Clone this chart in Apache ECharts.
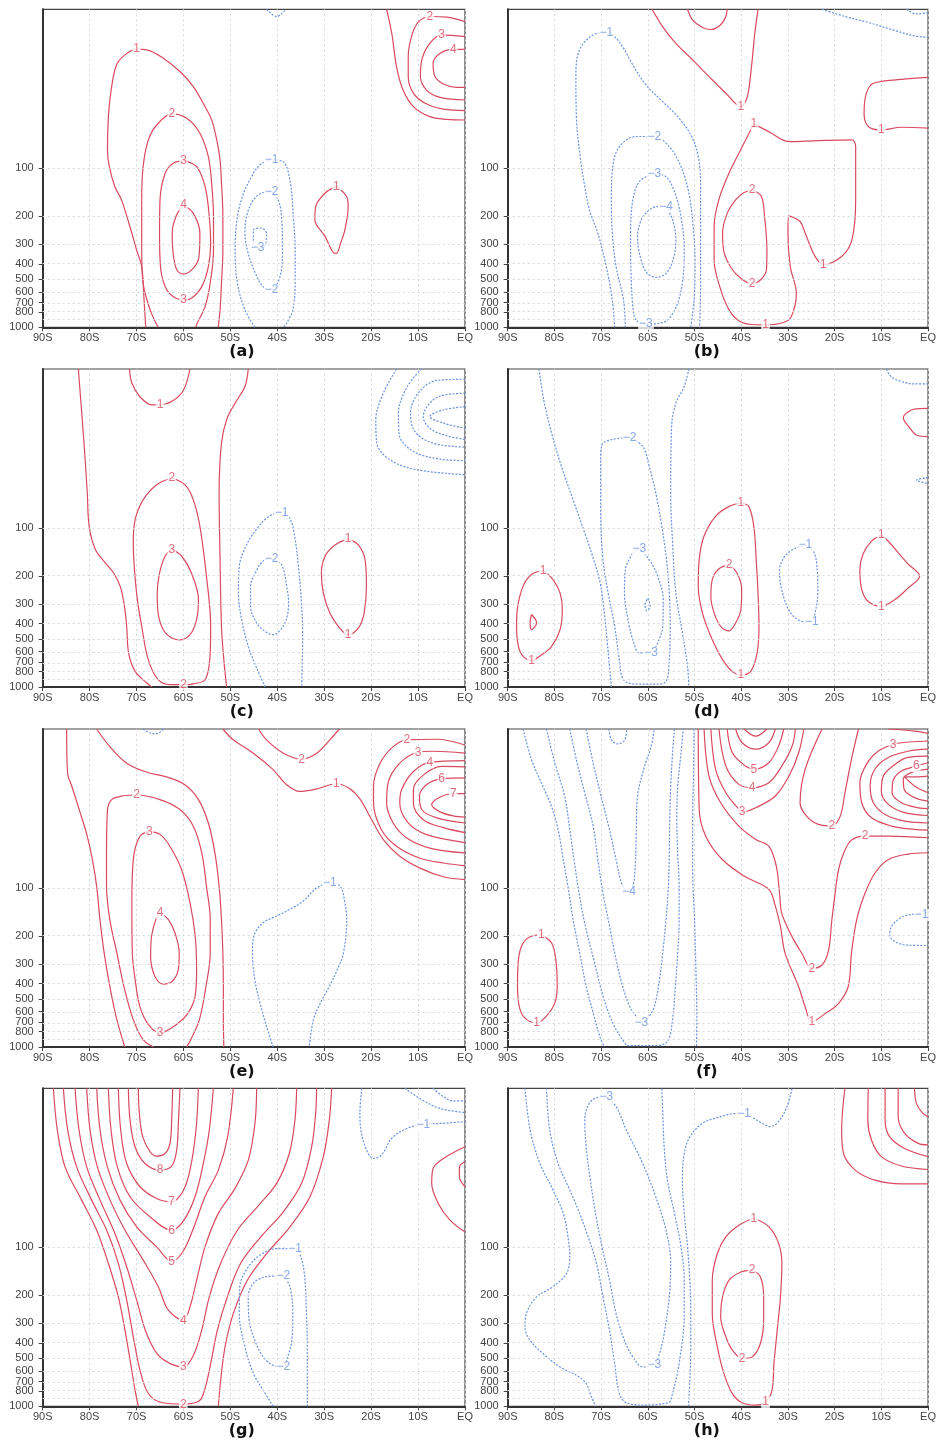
<!DOCTYPE html>
<html>
<head>
<meta charset="utf-8">
<title>Zonal-mean anomaly cross sections</title>
<script src="https://cdn.jsdelivr.net/npm/echarts@6/dist/echarts.min.js"></script>
<style>
  html, body { margin: 0; padding: 0; background: #fff; }
  #chart { width: 939px; height: 1443px; }
</style>
</head>
<body>
<div id="chart"></div>
<script>
// Axis ticks and panel tags
const LAT_TICKS = ['90S', '80S', '70S', '60S', '50S', '40S', '30S', '20S', '10S', 'EQ'];
const P_TICKS = [100, 200, 300, 400, 500, 600, 700, 800, 900, 1000];
const PANEL_TAGS = ['(a)', '(b)', '(c)', '(d)', '(e)', '(f)', '(g)', '(h)'];

// Contour lines per panel: v = contour value, pts = [latitude, pressure hPa],
// close = closed ring, lab = [latitude, pressure] where the value is written.
const panelA = [
  { v: 1, pts: [[-68.05,1000],[-68.4,673],[-68.9,415],[-70,326],[-71,256],[-73.2,158],[-74.6,131],[-75.8,97.6],[-76.2,76.7],[-76,47.3],[-75.5,33.7],[-74.4,22.9],[-72.8,19.7],[-70,17.8],[-67.8,18],[-64.3,20.3],[-60.7,24.7],[-57.9,30.6],[-55.8,39],[-54,49.6],[-52.9,66.5],[-52.2,88.6],[-51.9,124],[-51.6,201],[-51.6,326],[-51.9,528],[-52.2,777],[-52.6,1000]], lab: [[-70,17.8]] },
  { v: 2, pts: [[-65.4,1000],[-67.1,777],[-68.6,528],[-68.9,326],[-68.9,158],[-68.6,97.6],[-67.5,66.5],[-65.7,53.4],[-62.5,45.5],[-59.3,48.5],[-56.5,60.2],[-54.7,84.5],[-54,124],[-53.6,201],[-53.6,326],[-54.3,528],[-55.4,741],[-57.2,960],[-57.3,1000]], lab: [[-62.5,45.5]] },
  { v: 3, close: true, pts: [[-60,89.5],[-57.2,97.6],[-55.4,130],[-54.5,201],[-54.2,296],[-54.7,415],[-56.1,555],[-58.3,657],[-60,673],[-62.2,641],[-63.9,555],[-64.9,415],[-65.1,256],[-65,158],[-63.9,107.5],[-62.2,93]], lab: [[-60,89.5],[-60,673]] },
  { v: 4, close: true, pts: [[-60,170],[-57.9,192],[-56.5,256],[-56.7,359],[-57.9,425],[-59.9,462],[-61.4,436],[-62.2,343],[-62.4,256],[-61.6,201]], lab: [[-60,170]] },
  { v: -1, pts: [[-44.8,1000],[-46.9,777],[-48.5,528],[-49,326],[-48.5,201],[-47.2,143.7],[-45.5,113],[-43.7,95.1],[-41.2,88.6],[-38.7,91],[-37.2,124],[-36.6,201],[-36.2,326],[-36.2,528],[-36.7,777],[-38,940],[-38.7,1000]], lab: [[-41.2,88.6]] },
  { v: -2, close: true, pts: [[-41.2,140],[-39.8,158],[-39.1,201],[-38.9,326],[-39.4,477],[-41.2,582],[-43,555],[-44.4,477],[-46.2,343],[-46.9,256],[-46.4,192],[-44.8,154],[-43,142]], lab: [[-41.2,140],[-41.2,582]] },
  { v: -3, close: true, pts: [[-45.1,300],[-45.1,245],[-43.5,238],[-42.3,256],[-42.5,300],[-43.8,318]], lab: [[-44.2,318]] },
  { v: 1, close: true, pts: [[-27.4,130],[-25.2,151],[-24.9,174],[-25.6,244],[-26.5,295],[-27.4,343],[-28.2,335],[-29.8,269],[-32,211],[-31.8,174],[-29.8,143]], lab: [[-27.4,130]] },
  { v: 1, pts: [[-16.7,10],[-15.6,14.2],[-14.6,22.9],[-13.2,32.2],[-11,40.9],[-7.5,47.3],[-3.9,49.2],[0,49.7]] },
  { v: 2, pts: [[0,11.96],[-3.9,11.2],[-7.5,11.1],[-10,12.1],[-11.4,14.86],[-12.1,19.85],[-12.1,26.5],[-11,33.7],[-8.5,39],[-4.6,42.5],[0,43.4]], lab: [[-7.5,11.1]] },
  { v: 3, pts: [[0,14.86],[-5,14.5],[-7.5,16.4],[-9.2,20.8],[-9.5,26.5],[-8.2,32.2],[-5.3,35.8],[0,37.2]], lab: [[-5,14.5]] },
  { v: 4, pts: [[0,17.85],[-2.5,17.85],[-5.3,18.9],[-6.8,21.9],[-6.4,26.5],[-4.6,29.5],[-1.8,31],[0,31]], lab: [[-2.5,17.85]] },
  { v: -1, pts: [[-42.3,10],[-40.1,11.1],[-38.2,10]] }
];

const panelB = [
  { v: -1, pts: [[-67.1,1000],[-67.6,673],[-68.9,415],[-70.7,256],[-72.5,183],[-73.5,130],[-74.4,88.6],[-75.3,47.3],[-75.4,25.3],[-74.9,18.9],[-73.5,16],[-71,14.2],[-68.9,14],[-67.5,14.5],[-65.4,17.2],[-63.2,22.4],[-60.4,29.9],[-56.8,38.1],[-53.3,48.5],[-50.6,63.2],[-49.2,84.5],[-48.7,124],[-48.7,256],[-48.7,528],[-48.9,1000]], lab: [[-68.9,14]] },
  { v: -2, pts: [[-64.8,1000],[-65.2,673],[-66.8,415],[-67.6,256],[-67.8,158],[-67.5,97.6],[-66.1,73.1],[-62.5,63.1],[-58.6,63.1],[-55.4,73.1],[-52.9,97.6],[-51.2,143.6],[-50.3,232],[-49.9,377],[-50,610],[-50.4,816],[-50.8,1000]], lab: [[-58.6,63.1]] },
  { v: -3, close: true, pts: [[-58.6,107.5],[-56.1,113],[-54.3,140],[-52.9,201],[-52.2,326],[-52.6,528],[-53.9,740],[-55.8,900],[-58,950],[-60.4,955],[-62.5,900],[-63.2,740],[-63.6,458],[-63.7,256],[-63.2,158],[-61.8,121]], lab: [[-58.6,107.5],[-60.4,955]] },
  { v: -4, close: true, pts: [[-56.1,174],[-54.7,211],[-54,282],[-54.6,377],[-56.1,458],[-58.3,485],[-60.4,447],[-61.8,343],[-62.2,269],[-61.4,211],[-59.7,183],[-57.9,174]], lab: [[-56.1,174]] },
  { v: 1, pts: [[-59.1,10],[-56.8,12.9],[-54,16.4],[-50.4,20.8],[-46.9,26.5],[-43.3,33.7],[-40.1,40.9],[-38.7,35.4],[-37.8,22.9],[-37.1,14.2],[-36.4,10]], lab: [[-40.1,40.9]] },
  { v: 1, close: true, pts: [[-37.3,52.6],[-34.1,58.8],[-29.8,68],[-23.5,67],[-16.3,66.3],[-15.5,73],[-15.5,158],[-16.3,282],[-18.5,359],[-22.4,402],[-24.2,358],[-26.3,256],[-27.4,216],[-29.8,199],[-30,256],[-29.5,415],[-28.2,610],[-29.3,857],[-31.3,940],[-34.8,965],[-37.7,960],[-40.5,908],[-42.6,777],[-44.6,555],[-45.8,377],[-45.8,232],[-44.8,158],[-42.6,107],[-40.5,80.5],[-38.7,63.4]], lab: [[-37.3,52.6],[-22.4,402],[-34.8,965]] },
  { v: 2, pts: [[-51.5,10],[-50.4,11.7],[-48.3,13],[-46.5,13.4],[-44.4,12.5],[-43.3,11.1],[-43,10]] },
  { v: 1, pts: [[0,26.8],[-5.7,27.6],[-11.7,29.2],[-13.2,33.7],[-13.7,45.1],[-12.8,54.6],[-10,57.4],[-5.7,55.2],[0,55.9]], lab: [[-10,57.4]] },
  { v: 2, close: true, pts: [[-37.7,137],[-35.7,150],[-35,201],[-34.5,326],[-34.6,436],[-35.9,504],[-37.7,534],[-40.1,492],[-42.1,425],[-43.7,335],[-44,256],[-43,192],[-41.2,158],[-39.4,142]], lab: [[-37.7,137],[-37.7,534]] },
  { v: -1, pts: [[-22.7,10],[-17.8,11.1],[-12.8,12.1],[-7.1,13.6],[-2.9,14.7],[0,15]] },
  { v: -2, pts: [[-4.6,10],[-2.5,10.7],[0,10.5]] }
];

const panelC = [
  { v: 1, pts: [[-82.4,10],[-81.9,15.6],[-81.2,29.2],[-80.5,60.2],[-80.1,97.6],[-78.8,136],[-76.7,165],[-74.9,192],[-73.5,232],[-72.7,295],[-72.1,415],[-71.7,610],[-70.3,797],[-67.8,944],[-66.8,1000]] },
  { v: 1, pts: [[-46.2,10],[-46.9,12.9],[-49,16.4],[-50.8,20.8],[-51.9,29.2],[-52.4,60.2],[-52.2,158],[-51.9,415],[-51.4,673],[-50.8,1000]] },
  { v: 1, pts: [[-71.5,10],[-71,12.25],[-69.3,14.9],[-66.8,16.8],[-65,16.8],[-62.2,15.8],[-60,13.6],[-58.6,10]], lab: [[-65,16.8]] },
  { v: 2, close: true, pts: [[-62.5,48.5],[-59.7,53.4],[-57.9,66.5],[-56.5,97.6],[-55.1,201],[-54.2,415],[-54.4,673],[-55.4,900],[-57.9,955],[-60,967],[-62.9,967],[-65.4,900],[-67.5,673],[-68.9,415],[-70,256],[-70.7,124],[-70.3,88.6],[-68.6,66.5],[-65.7,53.4]], lab: [[-62.5,48.5],[-60,967]] },
  { v: 3, close: true, pts: [[-62.5,136],[-60.4,150],[-58.3,192],[-56.8,282],[-57.2,377],[-58.6,469],[-60.7,505],[-62.5,492],[-64.3,437],[-65.4,343],[-65.6,256],[-65.1,192],[-63.9,150]], lab: [[-62.5,136]] },
  { v: -1, pts: [[-42.6,1000],[-44.4,760],[-46.2,555],[-47.6,377],[-48.3,256],[-48.1,174],[-46.7,130],[-44.5,102.4],[-41.9,85],[-39.1,79.7],[-37.2,88.6],[-36.2,118],[-35.5,174],[-34.9,282],[-34.6,456],[-34.7,740],[-34.8,1000]], lab: [[-39.1,79.7]] },
  { v: -2, close: true, pts: [[-41.2,157],[-39.1,170],[-38,232],[-37.6,295],[-38.4,396],[-40.9,469],[-42.6,447],[-44.4,396],[-45.7,311],[-45.7,232],[-44.5,187],[-43,161]], lab: [[-41.2,157]] },
  { v: 1, close: true, pts: [[-24.9,116.7],[-22.7,128],[-21.3,158],[-21,232],[-21.5,343],[-22.7,425],[-24.9,469],[-27,415],[-28.8,343],[-30.2,256],[-30.6,192],[-29.8,150],[-27.7,128]], lab: [[-24.9,116.7],[-24.9,469]] },
  { v: -1, pts: [[-14.6,10],[-17.4,14.2],[-19,20.8],[-18.8,29.2],[-16,37.2],[-10.3,43],[0,46.2]] },
  { v: -2, pts: [[-9.25,10],[-12.3,12.9],[-14.2,19],[-14,26],[-11,33],[-5.3,36.9],[0,37.7]] },
  { v: -3, pts: [[0,11.6],[-6.05,11.8],[-10,14.2],[-11.6,19],[-10.7,24.7],[-6.8,29.3],[0,31]] },
  { v: -4, pts: [[0,14.2],[-5.3,14.8],[-7.8,16.8],[-8.9,19.9],[-7.5,23.6],[-3.9,26.3],[0,27.7]] },
  { v: -5, pts: [[0,17.25],[-4.6,18.1],[-7.5,19.9],[-4.6,21.9],[0,23.6]] }
];

const panelD = [
  { v: -1, pts: [[-83.3,10],[-82.3,15.6],[-80.6,25.3],[-78.5,40.9],[-76,66.5],[-73.5,107.5],[-71.6,158],[-70.2,222],[-69.3,343],[-68.6,555],[-67.8,1000]] },
  { v: -1, pts: [[-51.2,10],[-52.2,12.9],[-54,16.4],[-54.9,22.9],[-55.1,60.2],[-54.7,124],[-54,256],[-52.6,456],[-51.5,740],[-51.2,1000]] },
  { v: -2, close: true, pts: [[-63.9,26.9],[-61.1,30.6],[-59.7,40.9],[-58.3,60.2],[-57,97.6],[-56,158],[-55.4,256],[-55.2,415],[-55.4,673],[-56.1,921],[-58.3,960],[-62.5,960],[-65.2,900],[-66.1,673],[-67.1,415],[-68.5,256],[-69.6,158],[-70.1,76.7],[-70.1,37.2],[-69.8,29.9],[-67.8,27.8]], lab: [[-63.9,26.9]] },
  { v: -3, close: true, pts: [[-61.8,135],[-59.7,158],[-57.9,201],[-56.7,282],[-56.8,415],[-57.9,528],[-59.3,610],[-61.8,610],[-63,528],[-64.1,396],[-65,256],[-64.8,183],[-63.6,150],[-62.7,140]], lab: [[-61.8,135],[-59.3,610]] },
  { v: -4, close: true, pts: [[-60,276],[-59.5,309],[-60.2,332],[-60.6,305]] },
  { v: 1, close: true, pts: [[-82.4,185],[-80.3,211],[-78.8,256],[-78.3,326],[-78.8,437],[-80.6,555],[-82.8,629],[-84.9,680],[-86.7,642],[-87.7,555],[-88.1,415],[-87.9,318],[-86.7,232],[-84.9,196]], lab: [[-82.4,185],[-84.9,680]] },
  { v: 2, close: true, pts: [[-84.9,350],[-83.8,395],[-84.9,436],[-85.2,390]] },
  { v: 1, close: true, pts: [[-40.1,69.6],[-38.4,73.1],[-37.3,97.6],[-36.8,158],[-36.4,256],[-36.2,415],[-36.6,610],[-38,800],[-40.1,840],[-41.9,800],[-44,673],[-46.2,505],[-48.3,343],[-49.2,232],[-49,158],[-48,113],[-45.5,84.5],[-42.6,73.1]], lab: [[-40.1,69.6],[-40.1,840]] },
  { v: 2, close: true, pts: [[-42.6,170],[-40.9,192],[-39.9,244],[-40.1,328],[-41.2,396],[-42.6,443],[-44.4,415],[-45.8,343],[-46.5,270],[-46.2,211],[-44.8,181]], lab: [[-42.6,170]] },
  { v: -1, close: true, pts: [[-26.3,128],[-24.5,141],[-23.8,174],[-23.6,256],[-24.2,343],[-24.9,388],[-26.6,388],[-28.8,359],[-30.2,311],[-31.5,232],[-31.8,183],[-30.6,150],[-28.4,134]], lab: [[-26.3,128],[-24.9,388]] },
  { v: 1, close: true, pts: [[-10,110.6],[-12.1,121],[-13.9,145],[-14.6,183],[-14.2,244],[-12.8,290],[-10,311],[-7.1,282],[-4.3,239],[-1.8,201],[-4.3,168],[-6.4,143],[-8.4,122]], lab: [[-10,110.6],[-10,311]] },
  { v: 1, pts: [[0,17.7],[-2.9,17.9],[-5.3,20.3],[-4.3,22.7],[-2.2,26.3],[0,26.6]] },
  { v: -1, pts: [[-8.9,10],[-8,11.1],[-5.7,12],[-2.9,12.4],[0,12.4]] },
  { v: -1, pts: [[0,48.2],[-2.5,50],[0,52.6]] }
];

const panelE = [
  { v: 1, pts: [[-84.9,10],[-84.7,18.9],[-83.8,22.9],[-82,33.7],[-80.5,47.3],[-79.4,66.5],[-78.5,97.6],[-77.8,158],[-76.9,256],[-75.7,415],[-74.2,673],[-72.5,1000]] },
  { v: 1, pts: [[-78.5,10],[-75.7,12.9],[-72.1,16.4],[-67.8,18.7],[-63.6,20],[-59.7,22.4],[-56.8,27.8],[-54.7,39],[-53.3,60.2],[-52.4,97.6],[-51.9,158],[-51.6,256],[-51.5,415],[-51.5,673],[-51.4,1000]] },
  { v: 2, pts: [[-66.4,1000],[-68.6,900],[-70.7,673],[-72.7,415],[-74.2,256],[-75.7,158],[-76.4,97.6],[-76.4,60.2],[-76.2,32.5],[-75.3,27.8],[-72.8,26.3],[-70,26],[-65,27.8],[-60.7,32.2],[-57.9,40.9],[-56.1,60.2],[-55.1,97.6],[-54.3,158],[-54.3,256],[-55.2,415],[-56.6,673],[-58.3,880],[-59.3,1000]], lab: [[-70,26]] },
  { v: 3, close: true, pts: [[-67.3,44],[-65,46],[-62.9,54.6],[-60.4,76.7],[-58.6,124],[-57.5,201],[-57.2,326],[-57.5,477],[-59,610],[-61.4,720],[-65,815],[-67.5,720],[-69.3,555],[-70.3,377],[-70.9,256],[-71,124],[-70.7,66.5],[-69.3,47.3]], lab: [[-67.3,44],[-65,815]] },
  { v: 4, close: true, pts: [[-65,143],[-63.2,158],[-61.8,192],[-60.9,256],[-61.1,326],[-62.5,389],[-64.3,402],[-66.1,359],[-67,269],[-66.8,201],[-65.9,158]], lab: [[-65,143]] },
  { v: 2, pts: [[-44,10],[-42.3,11.7],[-38.7,14.2],[-34.8,15.5],[-31.6,14.2],[-28.8,11.7],[-26.8,10]], lab: [[-34.8,15.5]] },
  { v: 1, pts: [[-51.6,10],[-49.4,11.7],[-45.1,14.2],[-40.9,18],[-38,22.4],[-35.2,24.7],[-31.6,23.8],[-27.4,22.1],[-24.5,23.8],[-22.4,27.5],[-20.3,35.4],[-17.4,49.6],[-13.9,63.2],[-9.6,75],[-4.6,85],[0,88.6]], lab: [[-27.4,22.1]] },
  { v: 2, pts: [[0,12.6],[-6,11.6],[-12.4,11.7],[-15.3,12.9],[-18.1,16.4],[-19.5,22.9],[-19.5,29.2],[-17.8,43],[-14.6,54.6],[-9.6,65],[-4.6,69.6],[0,72.5]], lab: [[-12.4,11.7]] },
  { v: 3, pts: [[0,14.2],[-6.8,13.8],[-10,14],[-13.9,16.4],[-16.4,21.9],[-16.7,29.2],[-15.3,39],[-12.4,48.5],[-7.5,56.1],[0,60.2]], lab: [[-10,14]] },
  { v: 4, pts: [[0,15.8],[-7.5,16.2],[-11,18.5],[-13.5,24],[-13.9,29.2],[-12.1,39],[-8.2,46.2],[0,51.8]], lab: [[-7.5,16.2]] },
  { v: 5, pts: [[0,17.3],[-5,17.2],[-8.9,19.5],[-11,24],[-11,29.2],[-8.9,37.2],[-4.6,41.7],[0,44.8]] },
  { v: 6, pts: [[0,20.3],[-5,20.6],[-8.2,22.4],[-9.7,26.5],[-9.2,32.2],[-6,36.2],[0,39]], lab: [[-5,20.6]] },
  { v: 7, pts: [[0,25.5],[-2.5,25.5],[-5.3,26.8],[-7.1,30],[-5.3,33.2],[-2.5,35.2],[0,35.8]], lab: [[-2.5,25.5]] },
  { v: -1, pts: [[-40.9,1000],[-42.3,740],[-43.7,528],[-44.8,377],[-45.3,256],[-45,201],[-43,165],[-40.1,150],[-37.3,136],[-34.5,121],[-32,102],[-30.2,95],[-28.8,93],[-26.6,97.6],[-25.6,124],[-25.2,158],[-25.9,256],[-27.2,326],[-28.9,415],[-30.8,528],[-32.3,673],[-33.2,1000]], lab: [[-28.8,93]] },
  { v: -1, pts: [[-68.6,10],[-67.1,10.6],[-65.7,10.7],[-64.3,10]] }
];

const panelF = [
  { v: -1, pts: [[-86.7,10],[-84.9,15.6],[-82.8,21.8],[-80.6,30.8],[-79.2,43],[-78.1,66.5],[-77.1,97.6],[-76,158],[-74.6,256],[-73.2,415],[-71.7,610],[-70.3,857],[-69.3,1000]] },
  { v: -1, pts: [[-50.1,10],[-50.2,18],[-50.4,37.2],[-50.4,76.7],[-50,158],[-49.7,326],[-49.5,673],[-49.6,1000]] },
  { v: -2, pts: [[-81.7,10],[-79.9,16.4],[-77.8,26.5],[-76.7,43],[-75.7,69.6],[-74.6,113],[-73.2,183],[-71.4,295],[-69.6,477],[-67.5,710],[-65.4,900],[-64.1,980],[-58.3,980],[-55.8,921],[-54.7,673],[-54.1,415],[-53.6,256],[-53.3,158],[-53.3,97.6],[-53.6,60.2],[-53.8,37.2],[-53.6,22.9],[-52.9,14.2],[-52.4,10]] },
  { v: -3, pts: [[-76.7,10],[-75.3,15.6],[-73.5,25.3],[-71.7,40.9],[-70.7,66.5],[-69.6,107.5],[-68.2,174],[-66.8,282],[-65.4,415],[-63.9,555],[-62.5,642],[-61.4,700],[-60,658],[-58.6,555],[-57.5,377],[-56.8,256],[-56.1,158],[-55.6,97.6],[-55.4,60.2],[-55.3,37.2],[-55.1,22.9],[-54.7,14.2],[-54.3,10]], lab: [[-61.4,700]] },
  { v: -4, pts: [[-73.2,10],[-71.7,16.4],[-70,26.5],[-68.2,43],[-66.8,66.5],[-65.5,95],[-64.2,105],[-63.2,97.6],[-62.7,73.1],[-62.5,47.3],[-62.2,26.5],[-60.7,17.2],[-59.3,12.9],[-58.6,10]], lab: [[-64,106]] },
  { v: -5, pts: [[-68.3,10],[-67.8,11.7],[-66.4,12.4],[-65,11.8],[-64.5,10]] },
  { v: 1, close: true, pts: [[-82.8,197],[-80.6,222],[-79.7,282],[-79.4,415],[-79.9,528],[-81.7,640],[-83.8,705],[-86,670],[-87.4,575],[-87.9,415],[-87.7,282],[-86.7,222],[-84.5,199]], lab: [[-82.8,197],[-83.8,705]] },
  { v: 1, pts: [[-49.2,10],[-49,32],[-47.6,47.2],[-44.05,66.2],[-39.1,85.1],[-34.1,102],[-32.7,130],[-31.6,175],[-30.6,258],[-27.7,418],[-26.3,560],[-24.9,695],[-22,616],[-19.2,533],[-17.1,418],[-16.4,258],[-15.3,159],[-13.5,108],[-11.4,80.8],[-8.5,66.2],[-4.3,61.2],[0,60]], lab: [[-24.9,695]] },
  { v: 2, pts: [[-47.95,10],[-46.9,19.8],[-44.4,29.1],[-40.5,40.8],[-36.9,49.5],[-34.1,54.6],[-32.5,72.6],[-31.8,108],[-31.3,145],[-29.1,203],[-27,258],[-24.9,320],[-22.7,305],[-21.3,246],[-20.6,159],[-19.9,108],[-19.2,77.4],[-18.1,60.6],[-16.4,50],[-13.5,47.2],[-8.5,47.2],[0,48.3]], lab: [[-24.9,320],[-13.5,47.2]] },
  { v: 2, pts: [[-22.7,10],[-26.3,17.9],[-27.4,29.1],[-26.6,33.6],[-24.2,39],[-20.6,40.8],[-18.8,35.3],[-17.8,25.2],[-16.4,15.5],[-14.9,10]], lab: [[-20.6,40.8]] },
  { v: 3, pts: [[-46.5,10],[-45.5,17.9],[-43.3,25.2],[-40.5,32],[-39.8,33.3],[-36.9,31.3],[-32.7,26.4],[-29.8,19.8],[-27.7,14.1],[-26.6,10]], lab: [[-39.8,33.3]] },
  { v: 4, pts: [[-44.76,10],[-43.3,17.1],[-40.5,22.3],[-37.7,23.4],[-34.1,21.8],[-31.3,17.1],[-29.1,12.8],[-28.4,10]], lab: [[-37.7,23.4]] },
  { v: 5, pts: [[-43,10],[-41.9,14.1],[-39.1,17.1],[-37.3,17.9],[-34.1,16.3],[-32,12.8],[-30.9,10]], lab: [[-37.3,17.9]] },
  { v: 6, pts: [[-41.2,10],[-39.8,12.2],[-36.9,13.4],[-34.1,12.2],[-32.7,10]] },
  { v: 7, pts: [[-39.4,10],[-36.9,11.1],[-34.5,10]] },
  { v: 2, pts: [[-8.5,10],[-2.9,10.3],[0,10.65]] },
  { v: 3, pts: [[0,11.9],[-5.7,12.2],[-7.5,12.5],[-10.7,13.8],[-13.2,16.7],[-14.6,21.8],[-14.2,29.1],[-12.1,36.2],[-7.8,40.8],[-2.9,42.8],[0,43.2]], lab: [[-7.5,12.5]] },
  { v: 4, pts: [[0,13.4],[-4.3,13.8],[-8.5,15.1],[-11.4,17.9],[-12.4,22.8],[-11.7,29.1],[-9.2,34.5],[-5,38],[0,39]] },
  { v: 5, pts: [[0,14.8],[-4.3,15.1],[-7.1,16.7],[-9.6,19.8],[-10,24.6],[-8.5,29.8],[-5,33.6],[0,35]] },
  { v: 6, pts: [[0,16.3],[-2.5,17.1],[-5.7,18.4],[-7.5,21.2],[-7.7,25.2],[-5.7,29.1],[-2.1,31.3],[0,31.7]], lab: [[-2.5,17.1]] },
  { v: 7, pts: [[0,17.9],[-3.6,18.8],[-5.3,20.7],[-5.1,24],[-2.9,27],[0,28.4]] },
  { v: 8, pts: [[0,19.8],[-2.1,20],[-5,20],[-2.9,22.8],[0,25.2]] },
  { v: -1, pts: [[0,143],[-2.5,145],[-5.7,153],[-7.8,174],[-8.2,198],[-7,218],[-4.3,229],[0,230]], lab: [[-1.4,148]] }
];

const panelG = [
  { v: 9, pts: [[-69.62,10],[-69.4,14.37],[-68.69,20.15],[-67.13,25],[-65.71,26.7],[-63.93,25.7],[-62.87,22.2],[-62.51,15.83],[-62.3,10]] },
  { v: 8, pts: [[-71.75,10],[-71.39,15.83],[-70.33,23.3],[-68.2,29.7],[-65,32.7],[-62.51,30.9],[-61.45,24.5],[-61.09,16.6],[-60.74,10]], lab: [[-65,32.7]] },
  { v: 7, pts: [[-73.88,10],[-73.38,18.3],[-72.1,29.7],[-69.26,41.6],[-65.71,49.3],[-62.51,51.7],[-60.17,44.7],[-58.61,32.7],[-57.33,18.3],[-56.83,10]], lab: [[-62.51,51.7]] },
  { v: 6, pts: [[-76.01,10],[-75.44,18.3],[-74.09,31.2],[-71.39,48.1],[-67.13,64.3],[-62.51,78.1],[-59.89,67.4],[-57.54,48.1],[-55.77,29.7],[-54.49,18.3],[-53.64,10]], lab: [[-62.51,78.1]] },
  { v: 5, pts: [[-78.49,10],[-77.78,18.3],[-76.22,31.2],[-73.52,50.5],[-69.97,74.3],[-65.71,99.4],[-62.51,122.6],[-60.17,107],[-58.04,78.1],[-55.41,48.1],[-52.57,32.7],[-50.58,20.15],[-49.38,10]], lab: [[-62.51,122.6]] },
  { v: 4, pts: [[-80.62,10],[-79.91,18.3],[-78.35,31.2],[-75.65,50.5],[-72.46,78.1],[-68.55,120.9],[-65.36,177.3],[-63.22,248.7],[-60.03,287.7],[-58.61,237],[-57.19,161],[-55.41,99.4],[-52.57,61.2],[-49.02,42.6],[-46.18,28.3],[-44.76,16.6],[-44.4,10]], lab: [[-60.03,287.7]] },
  { v: 3, pts: [[-83.11,10],[-82.26,18.3],[-80.62,31.2],[-77.78,50.5],[-74.59,82.1],[-72.1,132.5],[-69.97,215],[-67.84,349.5],[-65,490],[-60.03,566],[-57.9,479],[-56.12,332.7],[-54.49,205],[-52.07,126.1],[-48.52,78.1],[-44.26,55.6],[-40.14,39.6],[-37.44,25.7],[-36.24,15.83],[-35.88,10]], lab: [[-60.03,566]] },
  { v: 2, pts: [[-85.6,10],[-84.67,18.3],[-82.76,31.2],[-79.56,50.5],[-76.36,78.1],[-73.88,126.1],[-72.1,215],[-70.68,367],[-69.26,594],[-67.49,831],[-64.64,947],[-60.03,970],[-56.62,924],[-55.41,773],[-54.2,539],[-52.78,332.7],[-50.65,205],[-47.81,126.1],[-43.55,86.3],[-38.72,59.8],[-34.82,39.6],[-32.68,23.3],[-31.83,14.37],[-31.62,10]], lab: [[-60.03,970]] },
  { v: 1, pts: [[-87.73,10],[-86.88,18.3],[-85.24,31.2],[-81.69,50.5],[-78.49,78.1],[-76.01,126.1],[-73.88,205],[-72.46,332.7],[-71.25,539],[-70.33,792],[-69.62,1000]] },
  { v: 1, pts: [[-52.57,1000],[-52.07,686],[-51.15,424],[-49.38,261.4],[-46.39,161],[-42.27,109.7],[-37.3,74.3],[-33.04,48.1],[-30.2,26.9],[-28.92,15.83],[-28.42,10]] },
  { v: -1, pts: [[-40.9,1000],[-43,792],[-45.1,622],[-46.9,424],[-48.1,261],[-48,177],[-46.4,136],[-43.7,112],[-40.1,101.9],[-36.2,101.9],[-34.8,120],[-34.1,161],[-33.8,261],[-33.6,424],[-33.6,686],[-33.6,1000]], lab: [[-36.2,101.9]] },
  { v: -2, close: true, pts: [[-38.7,151],[-37.3,177],[-36.7,261],[-36.9,385],[-37.9,500],[-38.7,566],[-40.9,553],[-43,489],[-44.8,385],[-46,287],[-46.2,205],[-45,167],[-42.3,153]], lab: [[-38.7,151],[-38.7,566]] },
  { v: -1, pts: [[-22,10],[-22.4,14.4],[-21.7,21.3],[-19.5,27.6],[-17.8,26.3],[-15.6,20.6],[-12.4,17.9],[-8.9,16.9],[-4.7,16.6],[0,16.2]], lab: [[-8.9,16.9]] },
  { v: -2, pts: [[-12.8,10],[-9.6,11.6],[-5.3,13.4],[0,14.2]] },
  { v: -3, pts: [[-6.8,10],[-4.6,11.3],[-2.5,12],[0,12]] },
  { v: 1, pts: [[0,23.3],[-4.6,27.6],[-6.8,31.9],[-7.1,39.6],[-5.7,53],[-3.2,67.4],[0,80.1]] },
  { v: 2, pts: [[0,28.9],[-1.2,31.4],[-1.2,36],[0,41.6]] }
];

const panelH = [
  { v: -1, pts: [[-86.3,10],[-85.2,18.3],[-83.1,29.7],[-80.3,43.6],[-78.1,61.2],[-77.1,85.7],[-76.7,115],[-77.4,146],[-80.3,177],[-83.8,205],[-86,261],[-86.3,318],[-85.2,385],[-82.4,467],[-78.8,566],[-75.3,638],[-73.2,719],[-72.1,873],[-71.2,1000]] },
  { v: -1, pts: [[-51.3,1000],[-51,686],[-50.8,424],[-50.8,261],[-51,161],[-51.5,99.4],[-52.2,61.2],[-52.6,37.8],[-52.2,25.7],[-51,20.2],[-48.3,16.6],[-44.8,15.2],[-41.2,14.4],[-39.4,14.4],[-37.7,15.2],[-35.5,16.6],[-33.8,17.4],[-32,16.2],[-30.2,13],[-29.1,10]], lab: [[-39.4,14.4]] },
  { v: -2, pts: [[-81.7,10],[-81,18.3],[-79.2,29.7],[-76.7,43.6],[-74.6,61.2],[-72.8,85.7],[-71,126],[-69.6,205],[-68.2,333],[-67.1,539],[-66.1,832],[-64.6,950],[-60.4,983],[-55.6,950],[-55.1,915],[-53.3,539],[-52.2,261],[-52.2,161],[-52.9,99.4],[-54.3,61.2],[-55.8,37.8],[-56.5,23.3],[-56.8,14.4],[-57,10]] },
  { v: -3, close: true, pts: [[-68.9,11.3],[-66.8,13],[-64.6,18.3],[-61.1,29.7],[-58.3,48.2],[-56.1,78.1],[-55.1,126],[-55.4,205],[-56.5,349],[-57.5,466],[-58.6,550],[-61.1,566],[-63.2,489],[-65,385],[-66.8,261],[-68.2,161],[-69.8,99.4],[-71.2,61.2],[-72.3,37.8],[-73.2,23.3],[-73.5,15.8],[-72.5,12.4],[-70.7,11.4]], lab: [[-68.9,11.3],[-58.6,550]] },
  { v: 1, close: true, pts: [[-37.3,65.7],[-34.1,74.2],[-32,94.5],[-31.3,126],[-31.6,205],[-32.3,333],[-33,539],[-33.4,792],[-34.8,940],[-36.9,983],[-39.8,950],[-41.9,832],[-43.7,623],[-45.1,424],[-46.2,261],[-46.2,161],[-45.1,109],[-43.3,86],[-40.5,72.6]], lab: [[-37.3,65.7],[-34.8,940]] },
  { v: 2, close: true, pts: [[-37.7,139],[-35.9,153],[-35.2,205],[-35.2,287],[-35.9,403],[-37.7,489],[-39.8,500],[-41.9,443],[-43.3,365],[-44.4,274],[-44,205],[-42.6,161],[-40.1,143]], lab: [[-37.7,139],[-39.8,500]] },
  { v: 1, pts: [[-17.8,10],[-18.5,18.3],[-18.1,25.7],[-15.6,32.7],[-11.4,37.8],[-5.7,39.9],[0,39.9]] },
  { v: 2, pts: [[-12.8,10],[-12.9,15.8],[-12.1,21.2],[-10,26.9],[-5.7,30.8],[0,32.4]] },
  { v: 3, pts: [[-9.2,10],[-9.2,15.8],[-8.2,20.2],[-5,23.9],[0,26.9]] },
  { v: 4, pts: [[-6.4,10],[-6.4,15.1],[-5,19.2],[-2.1,22.2],[0,22.7]] },
  { v: 5, pts: [[-2.9,10],[-2.5,12.4],[-1.1,14.4],[0,15.1]] }
];

const PANELS = [panelA, panelB, panelC, panelD, panelE, panelF, panelG, panelH];

// Layout of the 4 x 2 panel grid (pixels)
const COL_LEFT = [42.7, 507.7];
const ROW_TOP = [9.3, 369, 729, 1088.3];
const PLOT_W = 422.3, PLOT_H = 318;

const RED = '#d94a60';
const BLUE = '#6a92e0';
const TICK_FONT = 'Liberation Sans';
const LABEL_FONT = 'Liberation Sans';

const logP = p => Math.log10(p);
const valueText = v => (v < 0 ? '\u2212' + (-v) : String(v));

const grids = [], xAxes = [], yAxes = [], series = [], graphics = [];

PANELS.forEach((contours, i) => {
  const col = i % 2, row = Math.floor(i / 2);
  const left = COL_LEFT[col], top = ROW_TOP[row];

  grids.push({ left, top, width: PLOT_W, height: PLOT_H, show: true,
    borderColor: '#444', borderWidth: 1.2, backgroundColor: '#fff' });

  xAxes.push({
    gridIndex: i, type: 'value', min: -90, max: 0, interval: 10,
    axisLine: { show: true, onZero: false, lineStyle: { color: '#333', width: 2 } },
    axisTick: { show: true, length: 4, lineStyle: { color: '#444' } },
    axisLabel: { color: '#444', fontSize: 11, fontFamily: TICK_FONT, margin: 5,
      showMinLabel: true, showMaxLabel: true,
      formatter: v => LAT_TICKS[Math.round((v + 90) / 10)] },
    splitLine: { show: true, lineStyle: { color: '#d8d8d8', type: [2, 3], width: 1 } }
  });

  const yTicks = P_TICKS.map(logP);
  yAxes.push({
    gridIndex: i, type: 'value', min: 1, max: 3, inverse: true,
    axisLine: { show: true, onZero: false, lineStyle: { color: '#333', width: 2 } },
    axisTick: { show: true, length: 4, customValues: yTicks, lineStyle: { color: '#444' } },
    axisLabel: { color: '#444', fontSize: 11, fontFamily: TICK_FONT, margin: 9,
      showMinLabel: true, showMaxLabel: true,
      customValues: yTicks, formatter: v => String(Math.round(Math.pow(10, v))) },
    splitLine: { show: false }
  });

  // dotted pressure-level guide lines
  series.push({
    type: 'line', xAxisIndex: i, yAxisIndex: i, data: [], silent: true, z: 1,
    markLine: { silent: true, symbol: ['none', 'none'], animation: false,
      label: { show: false },
      lineStyle: { color: '#d8d8d8', type: [2, 3], width: 1 },
      data: P_TICKS.slice(0, -1).map(p => ({ yAxis: logP(p) })) }
  });

  const labels = [];
  contours.forEach(c => {
    const color = c.v > 0 ? RED : BLUE;
    const data = c.pts.map(([lat, p]) => [lat, logP(p)]);
    if (c.close) data.push(data[0]);
    series.push({
      type: 'line', xAxisIndex: i, yAxisIndex: i, data,
      smooth: 0.35, symbol: 'none', silent: true, clip: true, z: 3,
      lineStyle: { color, width: 1.2, type: c.v > 0 ? 'solid' : [2, 1.5] }
    });
    (c.lab || []).forEach(([lat, p]) => {
      labels.push({ value: [lat, logP(p)], label: { formatter: valueText(c.v), color } });
    });
  });

  series.push({
    type: 'scatter', xAxisIndex: i, yAxisIndex: i, data: labels, silent: true,
    symbolSize: 1, itemStyle: { color: 'rgba(0,0,0,0)' }, z: 5,
    label: { show: true, position: 'inside', fontSize: 12, fontFamily: LABEL_FONT,
      backgroundColor: '#fff', padding: [0, 1], lineHeight: 12 }
  });

  graphics.push({
    type: 'text', x: left + PLOT_W / 2 - 12, y: top + PLOT_H + 25,
    style: { text: PANEL_TAGS[i], fill: '#111', font: 'bold 16px "DejaVu Sans"',
      align: 'center', verticalAlign: 'middle' }
  });
});

const chart = echarts.init(document.getElementById('chart'), null, { renderer: 'canvas' });
chart.setOption({
  animation: false,
  backgroundColor: '#fff',
  grid: grids,
  xAxis: xAxes,
  yAxis: yAxes,
  series,
  graphic: graphics
});
</script>
</body>
</html>
